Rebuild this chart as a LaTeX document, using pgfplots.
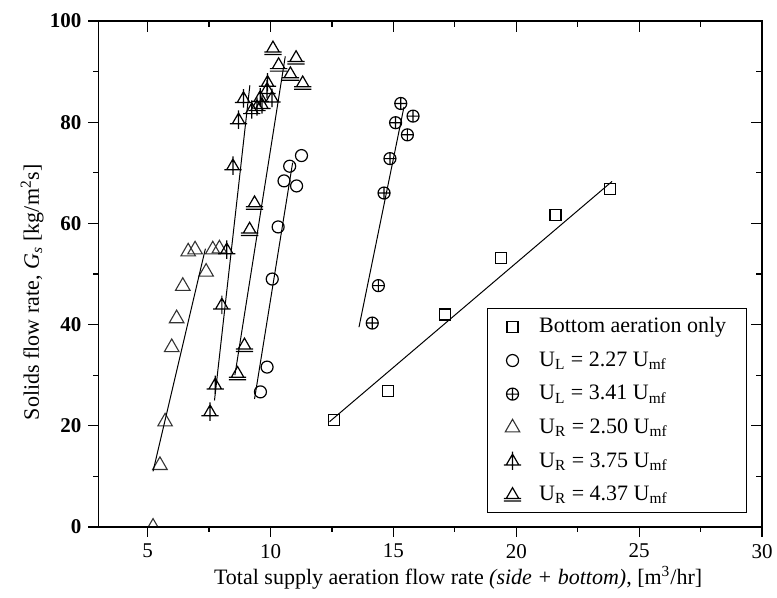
\documentclass[border=0pt]{standalone}
\usepackage{fontspec}
\setmainfont{Liberation Serif}
\usepackage{pgfplots}
\pgfplotsset{compat=1.18}

\pgfdeclareplotmark{tricross}{%
 \pgfpathmoveto{\pgfqpoint{0pt}{\pgfplotmarksize}}%
 \pgfpathlineto{\pgfqpoint{0.866\pgfplotmarksize}{-0.5\pgfplotmarksize}}%
 \pgfpathlineto{\pgfqpoint{-0.866\pgfplotmarksize}{-0.5\pgfplotmarksize}}%
 \pgfpathclose
 \pgfpathmoveto{\pgfqpoint{0pt}{1.35\pgfplotmarksize}}%
 \pgfpathlineto{\pgfqpoint{0pt}{-1.2\pgfplotmarksize}}%
 \pgfpathmoveto{\pgfqpoint{-1.2\pgfplotmarksize}{-0.5\pgfplotmarksize}}%
 \pgfpathlineto{\pgfqpoint{1.2\pgfplotmarksize}{-0.5\pgfplotmarksize}}%
 \pgfusepathqstroke
}
\pgfdeclareplotmark{tribar}{%
 \pgfpathmoveto{\pgfqpoint{0pt}{\pgfplotmarksize}}%
 \pgfpathlineto{\pgfqpoint{0.866\pgfplotmarksize}{-0.5\pgfplotmarksize}}%
 \pgfpathlineto{\pgfqpoint{-0.866\pgfplotmarksize}{-0.5\pgfplotmarksize}}%
 \pgfpathclose
 \pgfpathmoveto{\pgfqpoint{-1.2\pgfplotmarksize}{-0.5\pgfplotmarksize}}%
 \pgfpathlineto{\pgfqpoint{1.2\pgfplotmarksize}{-0.5\pgfplotmarksize}}%
 \pgfpathmoveto{\pgfqpoint{-1.2\pgfplotmarksize}{-0.85\pgfplotmarksize}}%
 \pgfpathlineto{\pgfqpoint{1.2\pgfplotmarksize}{-0.85\pgfplotmarksize}}%
 \pgfusepathqstroke
}

\begin{document}
\begin{tikzpicture}
\begin{axis}[
  scale only axis, width=331.75pt, height=253pt,
  xmin=3, xmax=30, ymin=0, ymax=100,
  xtick={5,10,...,30}, ytick={0,20,...,100},
  minor x tick num=1, minor y tick num=1,
  tick align=outside, xtick pos=bottom, ytick pos=left,
  major tick length=5pt, minor tick length=2.5pt,
  axis line style={line width=0.8pt},
  every tick/.style={black, line width=0.6pt},
  /pgf/number format/assume math mode=true,
  xticklabel style={font=\fontsize{10.5}{12}\selectfont},
  yticklabel style={font=\fontsize{10.5}{12}\selectfont\bfseries},
  xlabel={Total supply aeration flow rate \textit{(side + bottom)}, [m\textsuperscript{3}/hr]},
  ylabel={Solids flow rate, \textit{G\textsubscript{s}} [kg/m\textsuperscript{2}s]},
  x label style={at={(axis description cs:0.542,-0.1)}, anchor=center, font=\fontsize{11}{13}\selectfont},
  y label style={at={(axis description cs:-0.1,0.464)}, anchor=center, font=\fontsize{11}{13}\selectfont},
  clip marker paths=true,
  legend cell align=left,
  legend style={at={(0.977,0.433)}, anchor=north east, draw=black, line width=0.6pt,
    font=\fontsize{11}{13}\selectfont, row sep=4pt, inner xsep=8pt, inner ysep=2.5pt,
    /tikz/every odd column/.style={column sep=7pt}},
]
% data
\addplot[only marks, mark=square, mark size=2.75pt, mark options={black, line width=0.6pt}]
 coordinates {(12.58,21.1) (14.78,26.8) (17.09,42.0) (19.38,53.2) (21.6,61.7) (23.8,66.8)};
\addlegendentry{Bottom aeration only}
\addplot[only marks, mark=o, mark size=3pt, mark options={black, line width=0.6pt}]
 coordinates {(9.59,26.7) (9.86,31.6) (10.07,49.0) (10.31,59.3) (10.55,68.4) (10.78,71.3) (11.06,67.4) (11.26,73.4)};
\addlegendentry{U\textsubscript{L} = 2.27 U\textsubscript{mf}}
\addplot[only marks, mark=oplus, mark size=3pt, mark options={black, line width=0.6pt}]
 coordinates {(14.14,40.3) (14.39,47.7) (14.62,66.0) (14.86,72.8) (15.09,79.9) (15.30,83.7) (15.57,77.5) (15.80,81.2)};
\addlegendentry{U\textsubscript{L} = 3.41 U\textsubscript{mf}}
\addplot[only marks, mark=triangle, mark size=4.2pt, mark options={black!80, line width=0.55pt}]
 coordinates {(5.50,12.2) (5.71,20.8) (5.98,35.5) (6.18,41.2) (6.43,47.6) (6.65,54.4) (6.93,54.8) (7.38,50.4) (7.65,54.8) (7.92,55.0)};
\addlegendentry{U\textsubscript{R} = 2.50 U\textsubscript{mf}}
\addplot[only marks, mark=tricross, mark size=3.6pt, mark options={black, line width=0.6pt}]
 coordinates {(7.54,22.7) (7.75,28.0) (8.02,43.8) (8.22,54.7) (8.47,71.3) (8.70,80.4) (8.90,84.6) (9.24,82.4) (9.45,83.0) (9.65,83.4) (9.58,84.8) (9.86,86.4) (10.06,84.7) (9.88,87.8)};
\addlegendentry{U\textsubscript{R} = 3.75 U\textsubscript{mf}}
\addplot[only marks, mark=tribar, mark size=3.6pt, mark options={black, line width=0.6pt}]
 coordinates {(8.66,30.3) (8.94,35.9) (9.15,58.8) (9.35,64.0) (10.10,94.6) (10.33,91.3) (10.81,89.5) (11.04,92.7) (11.31,87.7)};
\addlegendentry{U\textsubscript{R} = 4.37 U\textsubscript{mf}}
\addplot[only marks, mark=triangle, mark size=4.2pt, mark options={black!80, line width=0.55pt}, forget plot]
 coordinates {(5.22,0)};
% fit lines
\addplot[black, line width=0.5pt, forget plot] coordinates {(12.4,20.8) (23.9,68.3)};
\addplot[black, line width=0.5pt, forget plot] coordinates {(9.35,25.3) (10.9,72.0)};
\addplot[black, line width=0.5pt, forget plot] coordinates {(13.6,39.5) (15.43,83.0)};
\addplot[black, line width=0.5pt, forget plot] coordinates {(5.22,11.0) (7.35,55.0)};
\addplot[black, line width=0.5pt, forget plot] coordinates {(7.72,25.0) (9.16,87.3)};
\addplot[black, line width=0.5pt, forget plot] coordinates {(8.55,30.0) (10.6,93.0)};
\end{axis}
\begin{axis}[
  scale only axis, width=331.75pt, height=253pt,
  xmin=3, xmax=30, ymin=0, ymax=100,
  xtick={5,10,...,30}, ytick={0,20,...,100},
  minor x tick num=1, minor y tick num=1,
  tick align=inside, xtick pos=top, ytick pos=right,
  major tick length=5.5pt, minor tick length=3pt,
  axis line style={line width=0.8pt},
  every tick/.style={black, line width=0.6pt},
  xticklabels={}, yticklabels={},
]
\end{axis}
\pgfresetboundingbox
\path[use as bounding box] ([shift={(-49.25pt,-35.5pt)}]current axis.south west) rectangle ([shift={(7.5pt,10.5pt)}]current axis.north east);
\end{tikzpicture}
\end{document}
